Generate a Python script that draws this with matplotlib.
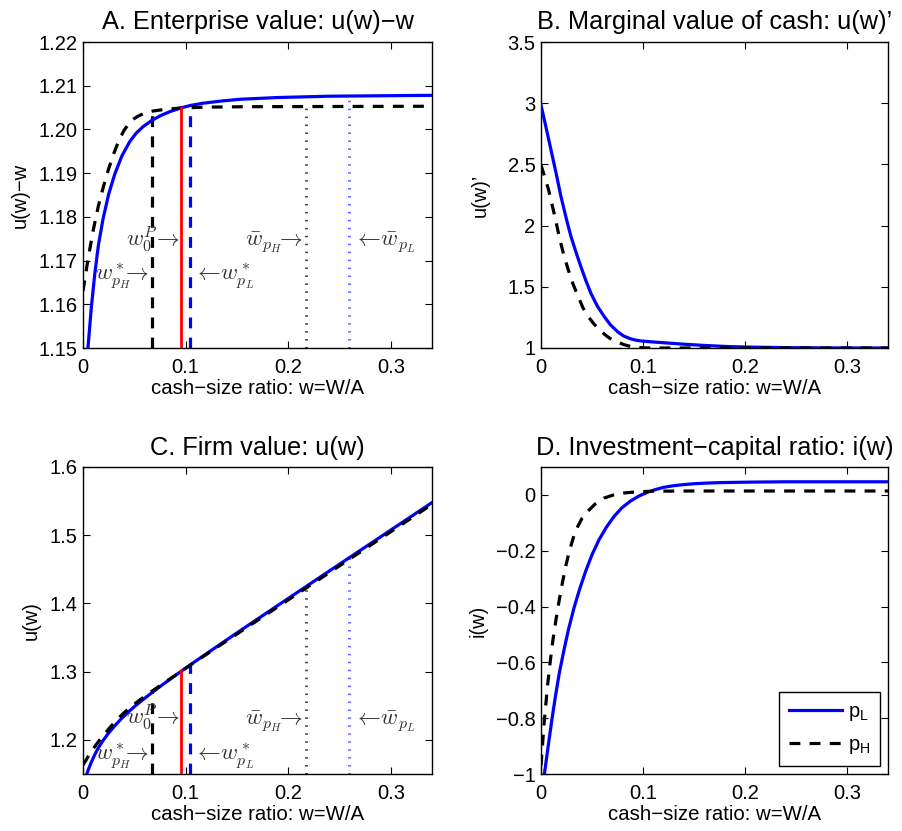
import numpy as np
import matplotlib
matplotlib.use("Agg")
import matplotlib.pyplot as plt

plt.rcParams["font.family"] = ["Liberation Sans", "DejaVu Sans"]
plt.rcParams["mathtext.fontset"] = "cm"

# ---- enterprise value u(w) - w ----
w_ev_L = [0.000, 0.005, 0.008, 0.0115, 0.015, 0.0195, 0.025, 0.031, 0.038, 0.0455,
          0.052, 0.0584, 0.0666, 0.075, 0.085, 0.095, 0.105, 0.117, 0.135, 0.153,
          0.19, 0.24, 0.29, 0.34]
ev_L = [1.1340, 1.1505, 1.1590, 1.1670, 1.1735, 1.1795, 1.1852, 1.1898, 1.1940, 1.1972,
        1.1992, 1.2006, 1.2020, 1.2031, 1.2041, 1.2049, 1.2055, 1.2060, 1.2065, 1.2069,
        1.2073, 1.2076, 1.2077, 1.2078]
w_ev_H = [0.000, 0.005, 0.010, 0.015, 0.020, 0.025, 0.030, 0.035, 0.040, 0.045,
          0.050, 0.055, 0.060, 0.068, 0.080, 0.095, 0.120, 0.160, 0.340]
ev_H = [1.1630, 1.1705, 1.1770, 1.1825, 1.1870, 1.1910, 1.1945, 1.1975, 1.1998, 1.2014,
        1.2025, 1.2032, 1.2037, 1.2042, 1.2046, 1.2049, 1.2051, 1.2052, 1.2053]

# ---- marginal value of cash u'(w) ----
w_mv_L = [0.000, 0.005, 0.0098, 0.015, 0.0196, 0.025, 0.0294, 0.034, 0.0391, 0.044,
          0.0489, 0.055, 0.062, 0.068, 0.075, 0.081, 0.0877, 0.0925, 0.0975, 0.107,
          0.120, 0.140, 0.160, 0.180, 0.200, 0.240, 0.280, 0.340]
mv_L = [2.985, 2.800, 2.618, 2.420, 2.236, 2.050, 1.910, 1.790, 1.664, 1.550,
        1.447, 1.345, 1.256, 1.190, 1.133, 1.098, 1.075, 1.065, 1.058, 1.051,
        1.043, 1.031, 1.021, 1.013, 1.008, 1.003, 1.001, 1.000]
w_mv_H = [0.000, 0.0035, 0.0072, 0.0121, 0.0155, 0.0186, 0.0225, 0.0268, 0.0315, 0.0365,
          0.041, 0.0463, 0.052, 0.0577, 0.0625, 0.0675, 0.075, 0.0822, 0.088, 0.095,
          0.102, 0.110, 0.340]
mv_H = [2.495, 2.400, 2.300, 2.127, 2.000, 1.882, 1.755, 1.637, 1.520, 1.419,
        1.330, 1.256, 1.195, 1.147, 1.110, 1.079, 1.047, 1.025, 1.013, 1.005,
        1.001, 1.000, 1.000]

# ---- investment-capital ratio i(w) ----
w_i_L = [0.000, 0.0033, 0.008, 0.011, 0.0144, 0.018, 0.0225, 0.027, 0.0323, 0.038,
         0.0437, 0.050, 0.0568, 0.064, 0.0714, 0.079, 0.0877, 0.096, 0.104, 0.112,
         0.120, 0.130, 0.140, 0.150, 0.160, 0.175, 0.190, 0.210, 0.240, 0.340]
i_L = [-1.090, -1.000, -0.875, -0.797, -0.716, -0.637, -0.556, -0.481, -0.405, -0.336,
       -0.274, -0.214, -0.161, -0.116, -0.078, -0.047, -0.022, -0.004, 0.009, 0.019,
       0.027, 0.033, 0.037, 0.040, 0.042, 0.044, 0.045, 0.046, 0.047, 0.047]
w_i_H = [0.000, 0.003, 0.0065, 0.009, 0.0114, 0.0145, 0.018, 0.021, 0.0245, 0.028,
         0.0323, 0.036, 0.040, 0.0457, 0.053, 0.062, 0.072, 0.0815, 0.095, 0.110,
         0.150, 0.340]
i_H = [-0.970, -0.820, -0.680, -0.598, -0.528, -0.451, -0.374, -0.314, -0.251, -0.198,
       -0.146, -0.113, -0.085, -0.059, -0.033, -0.011, 0.001, 0.007, 0.0114, 0.0133,
       0.014, 0.014]

# ---- policy thresholds ----
w_star_H = 0.067   # payout boundary, p_H
w0_P = 0.0958      # w_0^P
w_star_L = 0.104   # payout boundary, p_L
wbar_H = 0.2175
wbar_L = 0.259

x_ticks = [0, 0.1, 0.2, 0.3]
x_ticklabels = ["0", "0.1", "0.2", "0.3"]

# firm value u(w) = (u(w) - w) + w
u_L = np.array(ev_L) + np.array(w_ev_L)
u_H = np.array(ev_H) + np.array(w_ev_H)

BLUE = "#0000ff"
LW = 2.3
DASH = (3.4, 2.9)
NOTE = "0.2"

fig = plt.figure(figsize=(9.02, 8.31), dpi=100)
W, H = 902.0, 831.0


def make_axes(x0, x1, y0, y1):
    return fig.add_axes([x0 / W, 1 - y1 / H, (x1 - x0) / W, (y1 - y0) / H])


axA = make_axes(83, 432, 42, 348)
axB = make_axes(541, 888, 42, 348)
axC = make_axes(83, 432, 467, 774)
axD = make_axes(541, 888, 467, 774)


def style(ax, title, ylabel, ylim, yticks, yticklabels, ylabelpad=6):
    ax.set_xlim(0, 0.34)
    ax.set_ylim(*ylim)
    ax.set_xticks(x_ticks)
    ax.set_xticklabels(x_ticklabels)
    ax.set_yticks(yticks)
    ax.set_yticklabels(yticklabels)
    ax.tick_params(direction="in", top=True, right=True, length=5, width=0.8,
                   labelsize=14.5, pad=4)
    ax.tick_params(axis="x", pad=7)
    for s in ax.spines.values():
        s.set_linewidth(1.0)
    ax.set_title(title, fontsize=18.3, pad=9)
    ax.set_xlabel("cash\u2212size ratio: w=W/A", fontsize=14.7, labelpad=2)
    ax.set_ylabel(ylabel, fontsize=14.5, labelpad=ylabelpad)


def draw_thresholds(ax, curve_wL, curve_L, curve_wH, curve_H):
    base = ax.get_ylim()[0]
    top_bH = np.interp(wbar_H, curve_wH, curve_H)
    top_bL = np.interp(wbar_L, curve_wL, curve_L)
    ax.plot([wbar_H, wbar_H], [base, top_bH], color="0.3", lw=2.2,
            dashes=(0.5, 2.1), solid_capstyle="butt", zorder=2)
    ax.plot([wbar_L, wbar_L], [base, top_bL], color="#6a6aff", lw=2.2,
            dashes=(0.5, 2.1), solid_capstyle="butt", zorder=2)
    ax.plot([w_star_H, w_star_H], [base, np.interp(w_star_H, curve_wH, curve_H)],
            color="k", lw=LW, dashes=DASH, zorder=3)
    ax.plot([w_star_L, w_star_L], [base, np.interp(w_star_L, curve_wL, curve_L)],
            color=BLUE, lw=LW, dashes=DASH, zorder=3)
    ax.plot([w0_P, w0_P], [base, np.interp(w0_P, curve_wL, curve_L)],
            color="#ff0000", lw=2.0, zorder=5)


def labels(ax, y_top, y_low):
    kw = dict(color=NOTE, va="baseline", fontsize=16.5, zorder=6)
    # right-pointing notes are anchored at the arrow tip, left-pointing at the tail
    ax.text(0.0945, y_top, r"$w_0^P\!\rightarrow$", ha="right", **kw)
    ax.text(0.0636, y_low, r"$w^*_{p_H}\!\!\!\rightarrow$", ha="right", **kw)
    ax.text(0.1075, y_low, r"$\leftarrow\!w^*_{p_L}$", ha="left", **kw)
    ax.text(0.2140, y_top, r"$\bar{w}_{p_H}\!\!\rightarrow$", ha="right", **kw)
    ax.text(0.2633, y_top, r"$\leftarrow\!\bar{w}_{p_L}$", ha="left", **kw)


# A. Enterprise value
yA = np.arange(1.15, 1.2201, 0.01)
style(axA, "A. Enterprise value: u(w)\u2212w", "u(w)\u2212w", (1.15, 1.22),
      yA, [f"{v:.2f}" for v in yA])
draw_thresholds(axA, w_ev_L, ev_L, w_ev_H, ev_H)
axA.plot(w_ev_L, ev_L, color=BLUE, lw=LW, zorder=4)
axA.plot(w_ev_H, ev_H, color="k", lw=LW, dashes=DASH, zorder=4.5)
labels(axA, 1.1732, 1.1655)

# B. Marginal value of cash
style(axB, "B. Marginal value of cash: u(w)\u2019", "u(w)\u2019", (1, 3.5),
      [1, 1.5, 2, 2.5, 3, 3.5], ["1", "1.5", "2", "2.5", "3", "3.5"], ylabelpad=13)
axB.plot(w_mv_L, mv_L, color=BLUE, lw=LW, zorder=4)
axB.plot(w_mv_H, mv_H, color="k", lw=LW, dashes=DASH, zorder=4.5)

# C. Firm value
style(axC, "C. Firm value: u(w)", "u(w)", (1.15, 1.6),
      [1.2, 1.3, 1.4, 1.5, 1.6], ["1.2", "1.3", "1.4", "1.5", "1.6"])
draw_thresholds(axC, w_ev_L, u_L, w_ev_H, u_H)
axC.plot(w_ev_L, u_L, color=BLUE, lw=LW, zorder=4)
axC.plot(w_ev_H, u_H, color="k", lw=LW, dashes=DASH, zorder=4.5)
labels(axC, 1.2218, 1.1697)

# D. Investment-capital ratio
style(axD, "D. Investment\u2212capital ratio: i(w)", "i(w)", (-1, 0.1),
      [-1, -0.8, -0.6, -0.4, -0.2, 0],
      ["\u22121", "\u22120.8", "\u22120.6", "\u22120.4", "\u22120.2", "0"])
axD.plot(w_i_L, i_L, color=BLUE, lw=LW, zorder=4, label=r"$\mathregular{p_L}$")
axD.plot(w_i_H, i_H, color="k", lw=LW, dashes=DASH, zorder=4.5, label=r"$\mathregular{p_H}$")
leg = axD.legend(loc="lower right", bbox_to_anchor=(0.977, 0.026), borderaxespad=0,
                 fontsize=14.5, fancybox=False, framealpha=1, edgecolor="k",
                 handlelength=2.6, handletextpad=0.3, borderpad=0.5, labelspacing=0.6)
leg.get_frame().set_linewidth(1.0)

fig.savefig("out.png", dpi=100)
